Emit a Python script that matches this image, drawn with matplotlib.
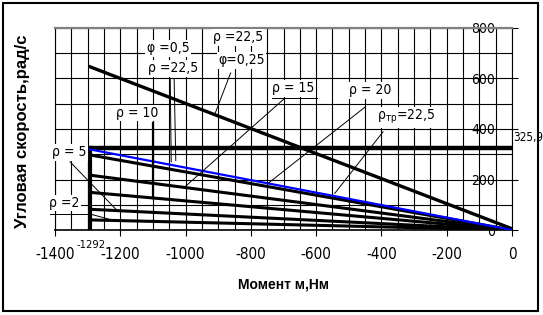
import matplotlib
matplotlib.use('Agg')
import matplotlib.pyplot as plt
from matplotlib.patches import Rectangle
from matplotlib.ticker import MultipleLocator

plt.rcParams['font.family'] = ['DejaVu Sans']
plt.rcParams['font.stretch'] = 'condensed'
plt.rcParams['axes.unicode_minus'] = False

# data
moment_start = -1292
omega_limit = 325.9
rho_values = ['2', '5', '10', '15', '20']
omega_start = [40, 82, 149, 217, 297]
omega_tr = 319
phi025_moment = [-1292, 0]
phi025_omega = [646, 5]
x_ticks = [-1400, -1200, -1000, -800, -600, -400, -200, 0]
y_ticks = [0, 200, 400, 600, 800]

fig = plt.figure(figsize=(5.43, 3.15), dpi=100)
ax = fig.add_axes([55 / 543, 85 / 315, 457 / 543, 202 / 315])

# fan of characteristics
for v in omega_start:
    ax.plot([moment_start, 0], [v, 0], color='black', lw=2.2, solid_capstyle='butt', zorder=3)
ax.plot([moment_start, 0], [omega_tr, 0], color='#0000ff', lw=1.6, zorder=4)
ax.plot(phi025_moment, phi025_omega, color='black', lw=2.4, zorder=3)

# limits
ax.plot([moment_start, 0], [omega_limit, omega_limit], color='black', lw=3.2, zorder=3)
ax.plot([moment_start, moment_start], [0, omega_limit], color='black', lw=3.0, zorder=3)

ax.set_xlim(-1400, 0)
ax.set_ylim(0, 800)
ax.set_xticks(x_ticks)
ax.xaxis.set_minor_locator(MultipleLocator(50))
ax.set_yticks(y_ticks)
ax.yaxis.set_minor_locator(MultipleLocator(100))
ax.grid(True, which='both', color='black', lw=0.8)
ax.set_axisbelow(True)

ax.yaxis.tick_right()
ax.tick_params(axis='x', which='major', direction='out', length=4.5, width=0.8, labelsize=11, pad=8)
ax.tick_params(axis='y', which='major', direction='out', length=4, width=0.8, labelsize=10, pad=-16)
ax.tick_params(which='minor', length=0)
for t in ax.get_yticklabels():
    t.set_horizontalalignment('right')

for s in ['left', 'right']:
    ax.spines[s].set_linewidth(0.8)
ax.spines['bottom'].set_linewidth(1.2)
ax.spines['top'].set_color('#808080')
ax.spines['top'].set_linewidth(1.6)

ax.set_xlabel('Момент м,Нм', family=['Liberation Sans', 'DejaVu Sans'], fontweight='bold',
              fontstretch='normal', fontsize=10, labelpad=11)
fig.text(23 / 543, 1 - 131 / 315, 'Угловая скорость,рад/с', rotation=90,
         family=['Liberation Sans', 'DejaVu Sans'], fontweight='bold', fontstretch='normal',
         fontsize=12, ha='center', va='center')

box = dict(facecolor='white', edgecolor='none', pad=1)
labels = [
    ('φ =0,5', -1054, 720),
    ('ρ =22,5', -1037, 641),
    ('ρ =22,5', -840, 763),
    ('φ=0,25', -828, 672),
    ('ρ = 10', -1149, 463),
    ('ρ = 15', -671, 561),
    ('ρ = 20', -433, 553),
    (r'ρ$_{\mathrm{тр}}$=22,5', -323, 447),
    ('ρ = 5', -1357, 308),
    ('ρ =2', -1372, 107),
]
for txt, x, y in labels:
    ax.text(x, y, txt, fontsize=10, ha='center', va='center', bbox=box, zorder=6, clip_on=False)

pointers = [
    ([-1047, -1044], [597, 270]),
    ([-1035, -1030], [597, 275]),
    ([-862, -910], [622, 460]),
    ([-736, -598], [522, 522]),
    ([-696, -1002], [522, 171]),
    ([-451, -747], [486, 185]),
    ([-395, -543], [389, 145]),
    ([-1354, -1211], [270, 79]),
    ([-1415, -1292], [63, 63]),
    ([-1292, -1226], [63, 40]),
]
for xs, ys in pointers:
    ax.plot(xs, ys, color='black', lw=0.7, zorder=5, clip_on=False)
ax.plot([-1100, -1100], [425, 127], color='black', lw=1.6, zorder=5)

ax.text(5, 368, '325,9', fontsize=8.5, ha='left', va='center', clip_on=False)
ax.text(-1290, -58, '-1292', fontsize=8, ha='center', va='center', clip_on=False)

fig.patches.append(Rectangle((3 / 543, 4 / 315), 535 / 543, 308 / 315, transform=fig.transFigure,
                             fill=False, edgecolor='black', lw=1.5))

fig.savefig('out.png', dpi=100)
